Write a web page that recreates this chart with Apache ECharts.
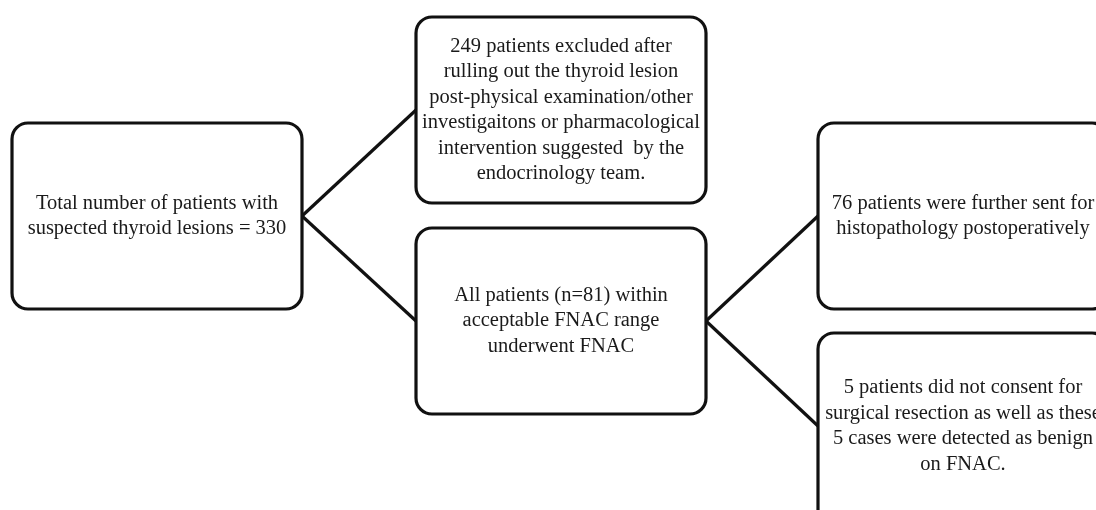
<!DOCTYPE html>
<html>
<head>
<meta charset="utf-8">
<script src="https://cdn.jsdelivr.net/npm/echarts@6/dist/echarts.min.js"></script>
<style>
  html, body { margin: 0; padding: 0; background: #fff; }
  #chart { width: 1096px; height: 510px; }
</style>
</head>
<body>
<div id="chart"></div>
<script>
// flowchart content
var nodeLabels = [
    'Total number of patients with\nsuspected thyroid lesions = 330',
    '249 patients excluded after\nrulling out the thyroid lesion\npost-physical examination/other\ninvestigaitons or pharmacological\nintervention suggested  by the\nendocrinology team.',
    'All patients (n=81) within\nacceptable FNAC range\nunderwent FNAC',
    '76 patients were further sent for\nhistopathology postoperatively',
    '5 patients did not consent for\nsurgical resection as well as these\n5 cases were detected as benign\non FNAC.'
];
var linkFrom = [0, 0, 2, 2];
var linkTo = [1, 2, 3, 4];

// layout of the boxes (page pixels: left, top, height)
var boxLeft = [12, 416, 416, 818, 818];
var boxTop = [123, 17, 228, 123, 333];
var boxHeight = [186, 186, 186, 186, 200];
var boxW = 290;
var anchorY = 93;

var chart = echarts.init(document.getElementById('chart'));

var boxData = nodeLabels.map(function (label, i) {
    return [boxLeft[i], boxTop[i], boxHeight[i]];
});

var linkCoords = linkFrom.map(function (from, i) {
    var to = linkTo[i];
    return {
        coords: [
            [boxLeft[from] + boxW, boxTop[from] + anchorY],
            [boxLeft[to], boxTop[to] + anchorY]
        ]
    };
});

var option = {
    animation: false,
    backgroundColor: '#fff',
    grid: { left: 0, right: 0, top: 0, bottom: 0 },
    xAxis: { type: 'value', min: 0, max: 1096, show: false },
    yAxis: { type: 'value', min: 0, max: 510, inverse: true, show: false },
    series: [
        {
            type: 'lines',
            coordinateSystem: 'cartesian2d',
            polyline: false,
            z: 1,
            lineStyle: { color: '#111', width: 3.2, opacity: 1, curveness: 0 },
            data: linkCoords
        },
        {
            type: 'custom',
            z: 2,
            clip: false,
            data: boxData,
            renderItem: function (params, api) {
                var p = api.coord([api.value(0), api.value(1)]);
                var size = api.size([boxW, api.value(2)]);
                var textH = api.size([0, 186])[1];
                return {
                    type: 'group',
                    children: [
                        {
                            type: 'rect',
                            shape: { x: p[0], y: p[1], width: size[0], height: size[1], r: 16 },
                            style: { fill: '#fff', stroke: '#111', lineWidth: 3.2 }
                        },
                        {
                            type: 'text',
                            x: p[0] + size[0] / 2,
                            y: p[1] + textH / 2,
                            style: {
                                text: nodeLabels[params.dataIndex],
                                fill: '#1a1a1a',
                                font: '20.5px "Liberation Serif"',
                                align: 'center',
                                verticalAlign: 'middle',
                                lineHeight: 25.5
                            }
                        }
                    ]
                };
            }
        }
    ]
};

chart.setOption(option);
</script>
</body>
</html>
